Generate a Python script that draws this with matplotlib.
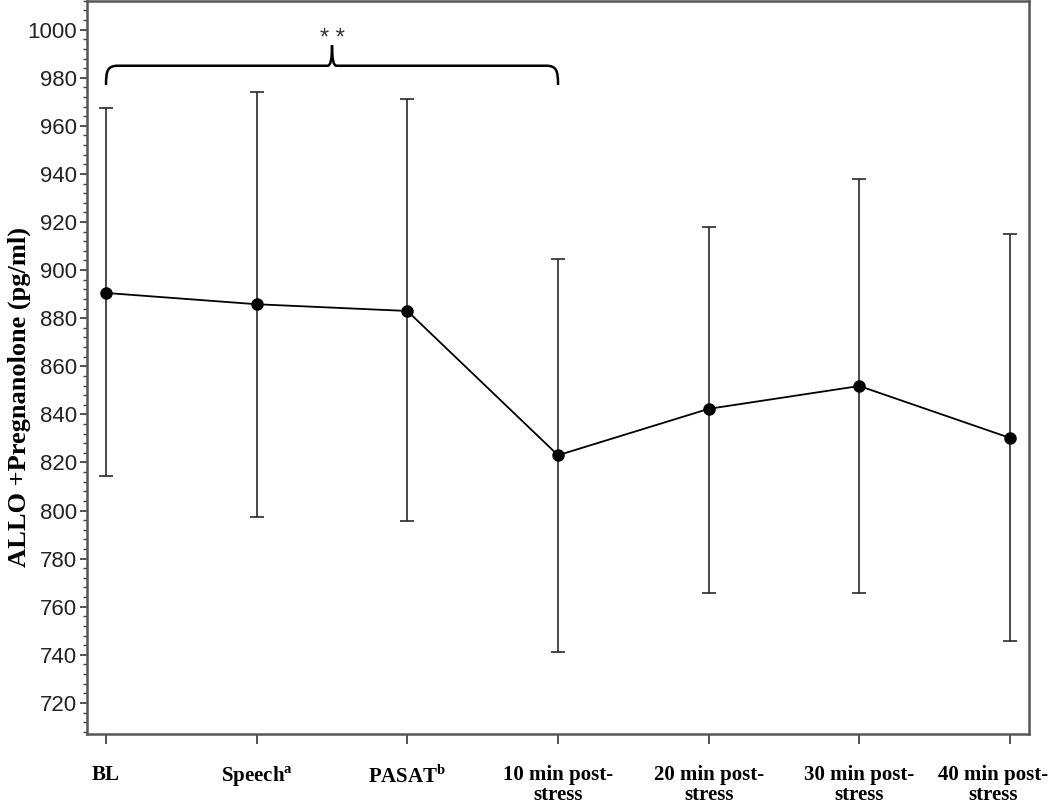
import numpy as np
import matplotlib
matplotlib.use('Agg')
import matplotlib.pyplot as plt
from matplotlib.path import Path
from matplotlib.patches import PathPatch
from matplotlib.ticker import MultipleLocator

plt.rcParams['mathtext.fontset'] = 'custom'
plt.rcParams['mathtext.rm'] = 'Liberation Serif'
plt.rcParams['mathtext.bf'] = 'Liberation Serif:bold'

# 数据
labels = ['BL', r'Speech$^{\mathbf{a}}$', r'PASAT$^{\mathbf{b}}$', '10 min post-\nstress',
          '20 min post-\nstress', '30 min post-\nstress', '40 min post-\nstress']
means = [890.5, 885.8, 883.0, 823.0, 842.3, 851.8, 830.2]
upper = [967.5, 974.2, 971.3, 904.8, 917.8, 937.8, 915.2]
lower = [814.5, 797.5, 795.5, 741.3, 765.8, 765.8, 745.8]

x = np.arange(len(labels))
means = np.array(means)
yerr = [means - np.array(lower), np.array(upper) - means]

fig = plt.figure(figsize=(10.5, 8.05), dpi=100)
ax = fig.add_axes([0.0829, 0.088, 0.8971, 0.911])

ax.errorbar(x, means, yerr=yerr, fmt='none', ecolor='#2a2a2a', elinewidth=1.2,
            capsize=5, capthick=1.2)
ax.plot(x, means, color='black', lw=1.3, marker='o', ms=8)

# 括号
x0, x1, xm = 0, 3, 1.5
yb, ye, yp = 985, 977, 993.5
verts = [(x0, ye), (x0, yb - 2), (x0 + 0.01, yb), (x0 + 0.08, yb),
         (xm - 0.03, yb), (xm - 0.01, yb), (xm, yb + 2.5), (xm, yp)]
codes = [Path.MOVETO, Path.CURVE4, Path.CURVE4, Path.CURVE4,
         Path.LINETO, Path.CURVE4, Path.CURVE4, Path.CURVE4]
ax.add_patch(PathPatch(Path(verts, codes), fc='none', ec='black', lw=1.8))
verts2 = [(x1, ye), (x1, yb - 2), (x1 - 0.01, yb), (x1 - 0.08, yb),
          (xm + 0.03, yb), (xm + 0.01, yb), (xm, yb + 2.5), (xm, yp)]
ax.add_patch(PathPatch(Path(verts2, codes), fc='none', ec='black', lw=1.8))
ax.text(xm, 996, '* *', ha='center', va='center', fontsize=17,
        family='Liberation Sans', color='#333333')

ax.set_xlim(-0.126, 6.126)
ax.set_ylim(707, 1012)
ax.set_xticks(x)
lab_font = dict(family='Liberation Serif', fontweight='bold', fontsize=15, linespacing=1.05)
ax.set_xticklabels(labels[:-1] + [''], va='top', **lab_font)
# 最后一个标签稍微左移，避免超出画布
ax.annotate(labels[-1], xy=(x[-1], 0), xycoords=ax.get_xaxis_transform(),
            xytext=(-12, -22), textcoords='offset points', ha='center', va='top',
            **lab_font)
ax.yaxis.set_major_locator(MultipleLocator(20))
ax.yaxis.set_minor_locator(MultipleLocator(4))
ax.set_yticks(np.arange(720, 1001, 20))
for t in ax.get_yticklabels():
    t.set_family('Liberation Sans')
    t.set_fontsize(16)
    t.set_color('#222222')
ax.tick_params(axis='x', length=7, width=1.3, color='#444444', pad=15)
ax.tick_params(axis='y', which='major', length=5, width=1.3, color='#444444', pad=2)
ax.tick_params(axis='y', which='minor', length=3, width=1.0, color='#444444')
for s in ax.spines.values():
    s.set_color('#555555')
    s.set_linewidth(1.8)

ax.set_ylabel('ALLO +Pregnanolone (pg/ml)', family='Liberation Serif', fontweight='bold',
              fontsize=19)
ax.yaxis.set_label_coords(-0.06, 0.46)

fig.savefig('out.png', dpi=100)
